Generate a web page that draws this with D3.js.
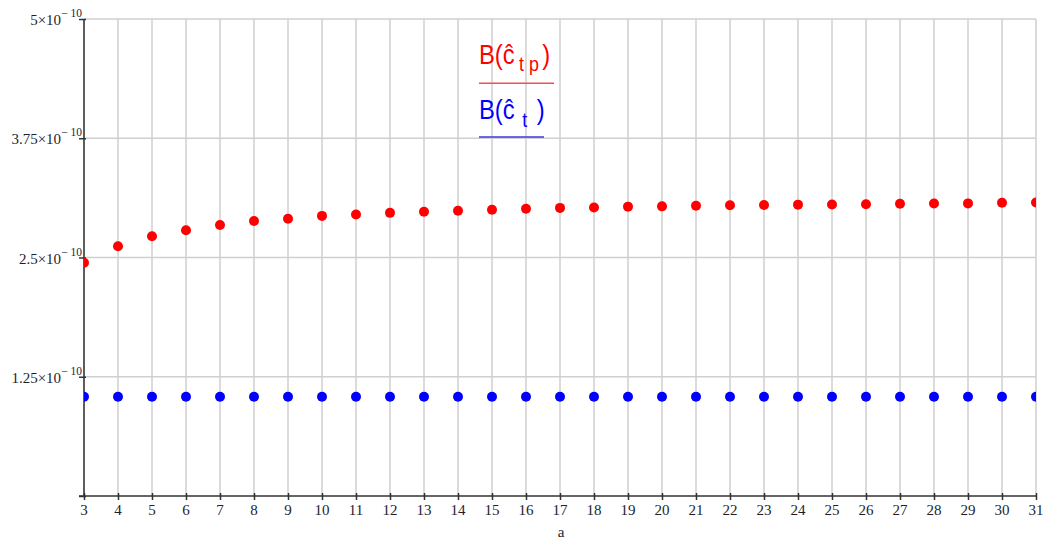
<!DOCTYPE html>
<html><head><meta charset="utf-8">
<script src="https://cdn.jsdelivr.net/npm/d3@7"></script>
<style>body{margin:0;background:#fff}svg{display:block}</style>
</head><body>
<script>
// ---- data ----
const aValues = d3.range(3, 32); // categories 3..31
const redSeries = [2.445, 2.617, 2.722, 2.785, 2.841, 2.883, 2.906, 2.936, 2.950, 2.968, 2.980, 2.990, 3.001, 3.011, 3.020, 3.024, 3.033, 3.036, 3.042, 3.047, 3.050, 3.054, 3.056, 3.058, 3.064, 3.066, 3.067, 3.074, 3.076].map(v => v * 1e-10);
const blueSeries = aValues.map(() => 1.041e-10);
const yTicks = [0, 1.25e-10, 2.5e-10, 3.75e-10, 5e-10];
const yTickMant = ["0", "1.25", "2.5", "3.75", "5"];
const xTicks = aValues;

const W = 1046, H = 539;
const svg = d3.select("body").append("svg").attr("width", W).attr("height", H);
const x = d3.scaleLinear().domain([3, 31]).range([84, 1036]);
const y = d3.scaleLinear().domain([0, 5e-10]).range([496, 19]);

const gridColor = "#cfcfcf";
const txtColor = "#1e1e30";
// gridlines
svg.append("g").selectAll("line").data(xTicks).join("line")
  .attr("x1", d => x(d)).attr("x2", d => x(d)).attr("y1", y(5e-10)).attr("y2", y(0))
  .attr("stroke", gridColor).attr("stroke-width", 1.5);
svg.append("g").selectAll("line").data(yTicks.slice(1)).join("line")
  .attr("x1", x(3)).attr("x2", x(31)).attr("y1", d => y(d)).attr("y2", d => y(d))
  .attr("stroke", gridColor).attr("stroke-width", 1.5);

// clip
svg.append("clipPath").attr("id", "clip").append("rect")
  .attr("x", x(3)).attr("y", y(5e-10)).attr("width", x(31) - x(3)).attr("height", y(0) - y(5e-10));

// axes
const yAxis = d3.axisLeft(y).tickValues(yTicks).tickSize(5).tickFormat("");
const gy = svg.append("g").attr("transform", `translate(${x(3)},0)`).call(yAxis);
gy.select(".domain").attr("stroke", "#333").attr("stroke-width", 1.5).attr("d", `M0,${y(5e-10)}V${y(0)}`);
gy.selectAll(".tick line").attr("stroke", "#333").attr("stroke-width", 1.5).attr("x1", 2);

const xAxis = d3.axisBottom(x).tickValues(xTicks).tickSize(4).tickFormat("");
const gx = svg.append("g").attr("transform", `translate(0,${y(0)})`).call(xAxis);
gx.select(".domain").attr("stroke", "#333").attr("stroke-width", 1.5).attr("d", `M${x(3) - 5},0H${x(31)}`);
gx.selectAll(".tick line").attr("stroke", "#333").attr("stroke-width", 1.5).attr("y1", -3);

// x tick labels
svg.append("g").selectAll("text").data(xTicks).join("text")
  .attr("x", d => x(d)).attr("y", 515).attr("text-anchor", "middle")
  .attr("font-family", "Liberation Serif").attr("font-size", 15).attr("fill", txtColor)
  .text(d => d);
svg.append("text").attr("x", (x(3) + x(31)) / 2 + 1).attr("y", 537).attr("text-anchor", "middle")
  .attr("font-family", "Liberation Serif").attr("font-size", 15).attr("fill", txtColor).text("a");

// y tick labels
const yl = svg.append("g").selectAll("text").data(yTicks.map((v, i) => [v, yTickMant[i]]).filter(d => d[0] > 0)).join("text")
  .attr("x", 82).attr("y", d => y(d[0]) + 6).attr("text-anchor", "end")
  .attr("font-family", "Liberation Serif").attr("font-size", 15).attr("fill", txtColor);
yl.append("tspan").text(d => d[1] + "×10");
yl.append("tspan").attr("font-size", 11.5).attr("dy", -8).text("− 10");

// points
const pts = svg.append("g").attr("clip-path", "url(#clip)");
pts.selectAll("circle.r").data(aValues.map((a, i) => [a, redSeries[i]])).join("circle")
  .attr("class", "r").attr("cx", d => x(d[0])).attr("cy", d => y(d[1])).attr("r", 5).attr("fill", "#ff0000");
pts.selectAll("circle.b").data(aValues.map((a, i) => [a, blueSeries[i]])).join("circle")
  .attr("class", "b").attr("cx", d => x(d[0])).attr("cy", d => y(d[1])).attr("r", 5).attr("fill", "#0000ff");

// legend
function legend(yBase, color, sub, subDx, subLs, subDy, closeDx, lineY, lineX2, lineColor) {
  const g = svg.append("g").attr("transform", `translate(479,${yBase}) scale(0.85,1)`);
  const t = g.append("text").attr("x", 0).attr("y", 0).attr("font-family", "Liberation Sans")
    .attr("font-size", 28).attr("fill", color);
  t.append("tspan").text("B(ĉ");
  t.append("tspan").attr("font-size", 21).attr("dy", subDy).attr("dx", subDx)
    .attr("letter-spacing", subLs).text(sub);
  t.append("tspan").attr("font-size", 28).attr("dy", -subDy).attr("dx", closeDx).attr("letter-spacing", 0).text(")");
  svg.append("line").attr("x1", 479).attr("x2", lineX2).attr("y1", lineY).attr("y2", lineY)
    .attr("stroke", lineColor).attr("stroke-width", 1.5);
}
legend(64, "#ff0000", "tp", 5, 6, 7, -2, 83.3, 554, "#f05050");
legend(119, "#0000ff", "t", 9, 0, 8, 11, 137, 544, "#3a3ae0");
</script>
</body></html>
